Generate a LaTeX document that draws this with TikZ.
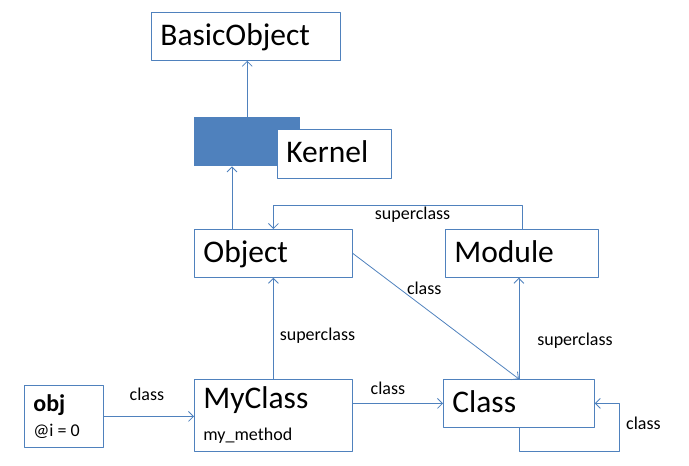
\documentclass[tikz,border=0pt]{standalone}
\usepackage{fontspec}
\setmainfont{Carlito}
\usetikzlibrary{arrows.meta}
\definecolor{boxblue}{RGB}{79,129,189}
\begin{document}
\begin{tikzpicture}[x=1pt, y=-1pt, >={Straight Barb[length=5pt,width=10pt]},
    line join=round, line cap=round,
    box/.style={draw=boxblue, line width=0.8pt, fill=white, anchor=north west,
      inner xsep=9pt, inner ysep=0pt, align=left, font=\fontsize{31.5}{36}\selectfont},
    one/.style={box, text height=23pt, text depth=5pt},
    lbl/.style={font=\fontsize{18}{20}\selectfont, inner sep=2pt},
    conn/.style={draw=boxblue, line width=0.8pt, ->}]
    \useasboundingbox (0,0) rectangle (689,466);
    % classes
    \node[one, text width=171pt, minimum height=48pt] (basic) at (151,12) {BasicObject};
    \node[fill=boxblue, anchor=north west, minimum width=106pt, minimum height=49pt, inner sep=0pt] (kblock) at (194,117) {};
    \node[one, text width=96pt, minimum height=49pt] (kernel) at (277,129) {Kernel};
    \node[one, text width=140pt, minimum height=48pt] (object) at (194,229) {Object};
    \node[one, text width=135pt, minimum height=48pt] (module) at (445,229) {Module};
    \node[box, text width=140pt, minimum height=72pt] (myclass) at (194,379)
      {MyClass\\[-4pt]\fontsize{18}{20}\selectfont my\_method};
    \node[one, text width=133pt, minimum height=48pt] (class) at (443,379) {Class};
    \node[box, text width=61pt, minimum height=62pt] (obj) at (24,385)
      {\fontsize{24}{26}\selectfont\bfseries obj\\[-11pt]\fontsize{18}{20}\selectfont\mdseries @i\kern4pt=\kern4pt0};
    % superclass links
    \draw[conn] (kblock.north) -- (kblock.north |- basic.south);
    \coordinate (objtop) at ([xshift=38pt]object.north west);
    \draw[conn] (objtop) -- (objtop |- kblock.south);
    \draw[conn] (module.north) -- ++(0,-24) -| (object.north) node[lbl, pos=0.22, below]{superclass};
    \draw[conn] (myclass.north) -- (object.south) node[lbl, midway, right, yshift=-7pt, xshift=4pt]{superclass};
    \draw[conn] (class.north) -- (class.north |- module.south) node[lbl, midway, right, yshift=-12pt, xshift=16pt]{superclass};
    % class links
    \draw[conn] (object.east) -- (class.north) node[lbl, pos=0.43, above=10pt]{class};
    \draw[conn] (class.west -| myclass.east) -- (class.west) node[lbl, midway, above=6pt, xshift=-10pt]{class};
    \draw[conn] (obj.east) -- (obj.east -| myclass.west) node[lbl, midway, above=13pt, xshift=-2pt]{class};
    \draw[conn] (class.south) -- ++(0,24) -| ([xshift=25pt]class.east) node[lbl, pos=0.75, right=4pt, yshift=4pt]{class} -- (class.east);
\end{tikzpicture}
\end{document}
